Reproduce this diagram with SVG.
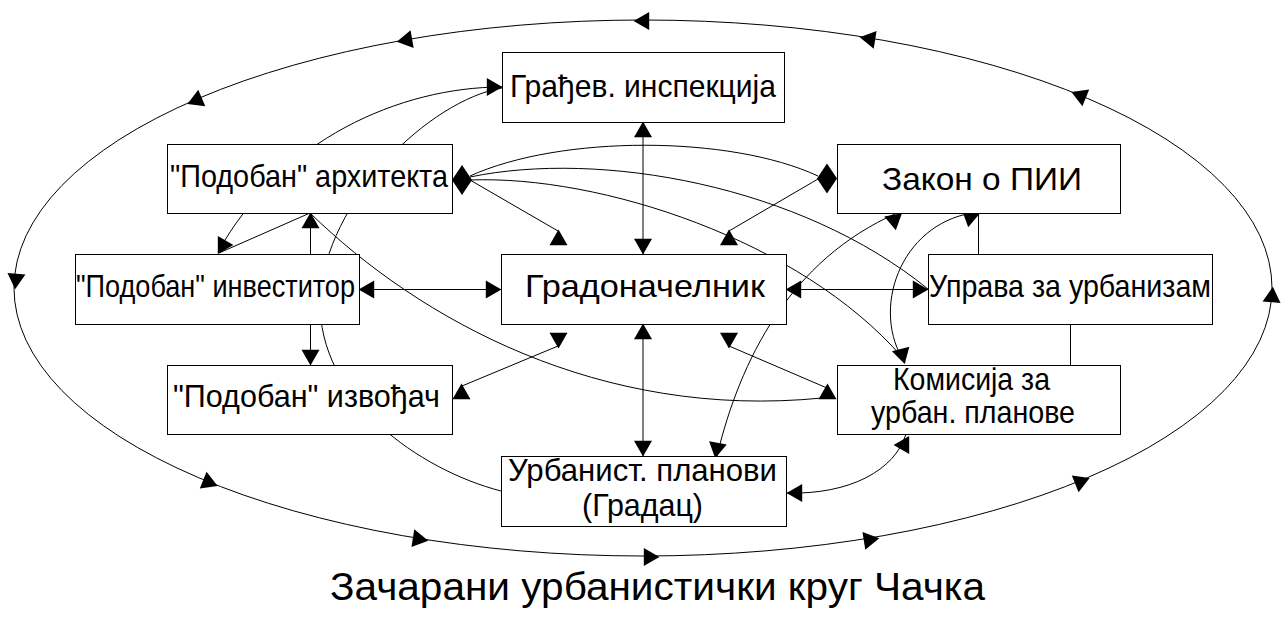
<svg xmlns="http://www.w3.org/2000/svg" xmlns:xlink="http://www.w3.org/1999/xlink" width="1287" height="618" viewBox="0 0 1287 618">
<style>
.box{fill:#fff;stroke:#000;stroke-width:1}
.ln{fill:none;stroke:#000;stroke-width:1}
.t{font-family:"Liberation Sans",Arial,sans-serif;font-size:32px;fill:#000;text-anchor:middle}
.ttl{font-family:"Liberation Sans",Arial,sans-serif;font-size:38px;fill:#000;text-anchor:middle}
.ah{fill:#000;stroke:none}
</style>
<defs>
<path id="ah" d="M10.4,0 L-5.2,-9 L-5.2,9 Z"/>
<path id="dm" d="M-10,0 L0,-15 L10,0 L0,15 Z"/>
</defs>
<rect width="1287" height="618" fill="#fff"/>
<g id="connectors">
<ellipse class="ln" cx="643" cy="288" rx="629" ry="268"/>
<line class="ln" x1="643" y1="122" x2="643" y2="254"/>
<line class="ln" x1="643" y1="324" x2="643" y2="456"/>
<line class="ln" x1="359" y1="289.5" x2="501" y2="289.5"/>
<line class="ln" x1="786" y1="289.5" x2="928" y2="289.5"/>
<line class="ln" x1="470" y1="180" x2="558" y2="231"/>
<line class="ln" x1="818" y1="179" x2="729" y2="231"/>
<line class="ln" x1="462" y1="386" x2="558" y2="346"/>
<line class="ln" x1="729" y1="346" x2="827" y2="388"/>
<line class="ln" x1="310" y1="213" x2="219" y2="253"/>
<line class="ln" x1="310.5" y1="213" x2="310.5" y2="365"/>
<line class="ln" x1="978.5" y1="213" x2="978.5" y2="254"/>
<line class="ln" x1="1070.5" y1="324" x2="1070.5" y2="365"/>
<path class="ln" d="M502,87 C400,87 280,140 218,252"/>
<path class="ln" d="M502,88 C430,100 325,200 320,300 C318,400 420,470 501,491"/>
<path class="ln" d="M470,176 C560,135 730,135 818,176"/>
<path class="ln" d="M470,177 C600,150 800,185 928,289"/>
<path class="ln" d="M470,180 C600,175 800,240 902,357"/>
<path class="ln" d="M310,213 C420,320 600,420 822,398"/>
<path class="ln" d="M972,213 C900,225 870,310 905,363"/>
<path class="ln" d="M717,456 C740,360 790,260 897,213"/>
<path class="ln" d="M786,493 C850,495 895,470 906,434"/>
<g class="ah">
<use xlink:href="#ah" transform="translate(644,21) rotate(180)"/>
<use xlink:href="#ah" transform="translate(407,40) rotate(170)"/>
<use xlink:href="#ah" transform="translate(870,39) rotate(189)"/>
<use xlink:href="#ah" transform="translate(1081,96) rotate(202)"/>
<use xlink:href="#ah" transform="translate(197,100) rotate(157)"/>
<use xlink:href="#ah" transform="translate(16,279) rotate(95)"/>
<use xlink:href="#ah" transform="translate(208,482) rotate(22)"/>
<use xlink:href="#ah" transform="translate(418,539) rotate(9)"/>
<use xlink:href="#ah" transform="translate(649,557) rotate(0)"/>
<use xlink:href="#ah" transform="translate(869,540) rotate(-9)"/>
<use xlink:href="#ah" transform="translate(1080,482) rotate(-22)"/>
<use xlink:href="#ah" transform="translate(1272,297) rotate(-85)"/>
<use xlink:href="#ah" transform="translate(643,132) rotate(-90)"/>
<use xlink:href="#ah" transform="translate(643,244) rotate(90)"/>
<use xlink:href="#ah" transform="translate(643,334) rotate(-90)"/>
<use xlink:href="#ah" transform="translate(643,446) rotate(90)"/>
<use xlink:href="#ah" transform="translate(369,289.5) rotate(180)"/>
<use xlink:href="#ah" transform="translate(491,289.5) rotate(0)"/>
<use xlink:href="#ah" transform="translate(796,289.5) rotate(180)"/>
<use xlink:href="#ah" transform="translate(918,289.5) rotate(0)"/>
<use xlink:href="#ah" transform="translate(492,87) rotate(0)"/>
<use xlink:href="#ah" transform="translate(223,245) rotate(120)"/>
<use xlink:href="#ah" transform="translate(310.5,223) rotate(-90)"/>
<use xlink:href="#ah" transform="translate(310.5,355) rotate(90)"/>
<use xlink:href="#ah" transform="translate(558.5,240) rotate(-90)"/>
<use xlink:href="#ah" transform="translate(729,240) rotate(-90)"/>
<use xlink:href="#ah" transform="translate(558.5,338) rotate(90)"/>
<use xlink:href="#ah" transform="translate(729,338) rotate(90)"/>
<use xlink:href="#ah" transform="translate(461.5,394) rotate(-90)"/>
<use xlink:href="#ah" transform="translate(827.5,394) rotate(-90)"/>
<use xlink:href="#ah" transform="translate(902,354) rotate(75)"/>
<use xlink:href="#ah" transform="translate(894,220) rotate(-40)"/>
<use xlink:href="#ah" transform="translate(970,217) rotate(-20)"/>
<use xlink:href="#ah" transform="translate(717,448) rotate(100)"/>
<use xlink:href="#ah" transform="translate(797,493) rotate(180)"/>
<use xlink:href="#ah" transform="translate(904,445) rotate(-60)"/>
<use xlink:href="#dm" transform="translate(462,180)"/>
<use xlink:href="#dm" transform="translate(827,178.5)"/>
</g>
</g>
<g id="n-gradjev">
<rect class="box" x="502.5" y="52.5" width="282" height="70"/>
<text class="t" x="643" y="97" textLength="266" lengthAdjust="spacingAndGlyphs">Грађев. инспекција</text>
</g>
<g id="n-arhitekta">
<rect class="box" x="167.5" y="144.5" width="285" height="69"/>
<text class="t" x="309" y="187" textLength="278" lengthAdjust="spacingAndGlyphs">"Подобан" архитекта</text>
</g>
<g id="n-zakon">
<rect class="box" x="837.5" y="144.5" width="283" height="69"/>
<text class="t" x="982" y="190" textLength="200" lengthAdjust="spacingAndGlyphs">Закон о ПИИ</text>
</g>
<g id="n-investitor">
<rect class="box" x="75.5" y="254.5" width="284" height="70"/>
<text class="t" x="215.5" y="297" textLength="279" lengthAdjust="spacingAndGlyphs">"Подобан" инвеститор</text>
</g>
<g id="n-gradonacelnik">
<rect class="box" x="501.5" y="254.5" width="285" height="70"/>
<text class="t" x="645" y="297" textLength="240" lengthAdjust="spacingAndGlyphs">Градоначелник</text>
</g>
<g id="n-uprava">
<rect class="box" x="928.5" y="254.5" width="284" height="70"/>
<text class="t" x="1070" y="297" textLength="282" lengthAdjust="spacingAndGlyphs">Управа за урбанизам</text>
</g>
<g id="n-izvodjac">
<rect class="box" x="167.5" y="365.5" width="285" height="69"/>
<text class="t" x="306.5" y="407" textLength="267" lengthAdjust="spacingAndGlyphs">"Подобан" извођач</text>
</g>
<g id="n-komisija">
<rect class="box" x="837.5" y="365.5" width="283" height="69"/>
<text class="t" x="971.5" y="390" textLength="157" lengthAdjust="spacingAndGlyphs">Комисија за</text>
<text class="t" x="973" y="423" textLength="204" lengthAdjust="spacingAndGlyphs">урбан. планове</text>
</g>
<g id="n-urbanist">
<rect class="box" x="501.5" y="456.5" width="285" height="70"/>
<text class="t" x="642.5" y="481" textLength="269" lengthAdjust="spacingAndGlyphs">Урбанист. планови</text>
<text class="t" x="642.5" y="516" font-size="30" textLength="121" lengthAdjust="spacingAndGlyphs">(Градац)</text>
</g>
<text class="ttl" x="657.5" y="600" textLength="655" lengthAdjust="spacingAndGlyphs">Зачарани урбанистички круг Чачка</text>
</svg>
